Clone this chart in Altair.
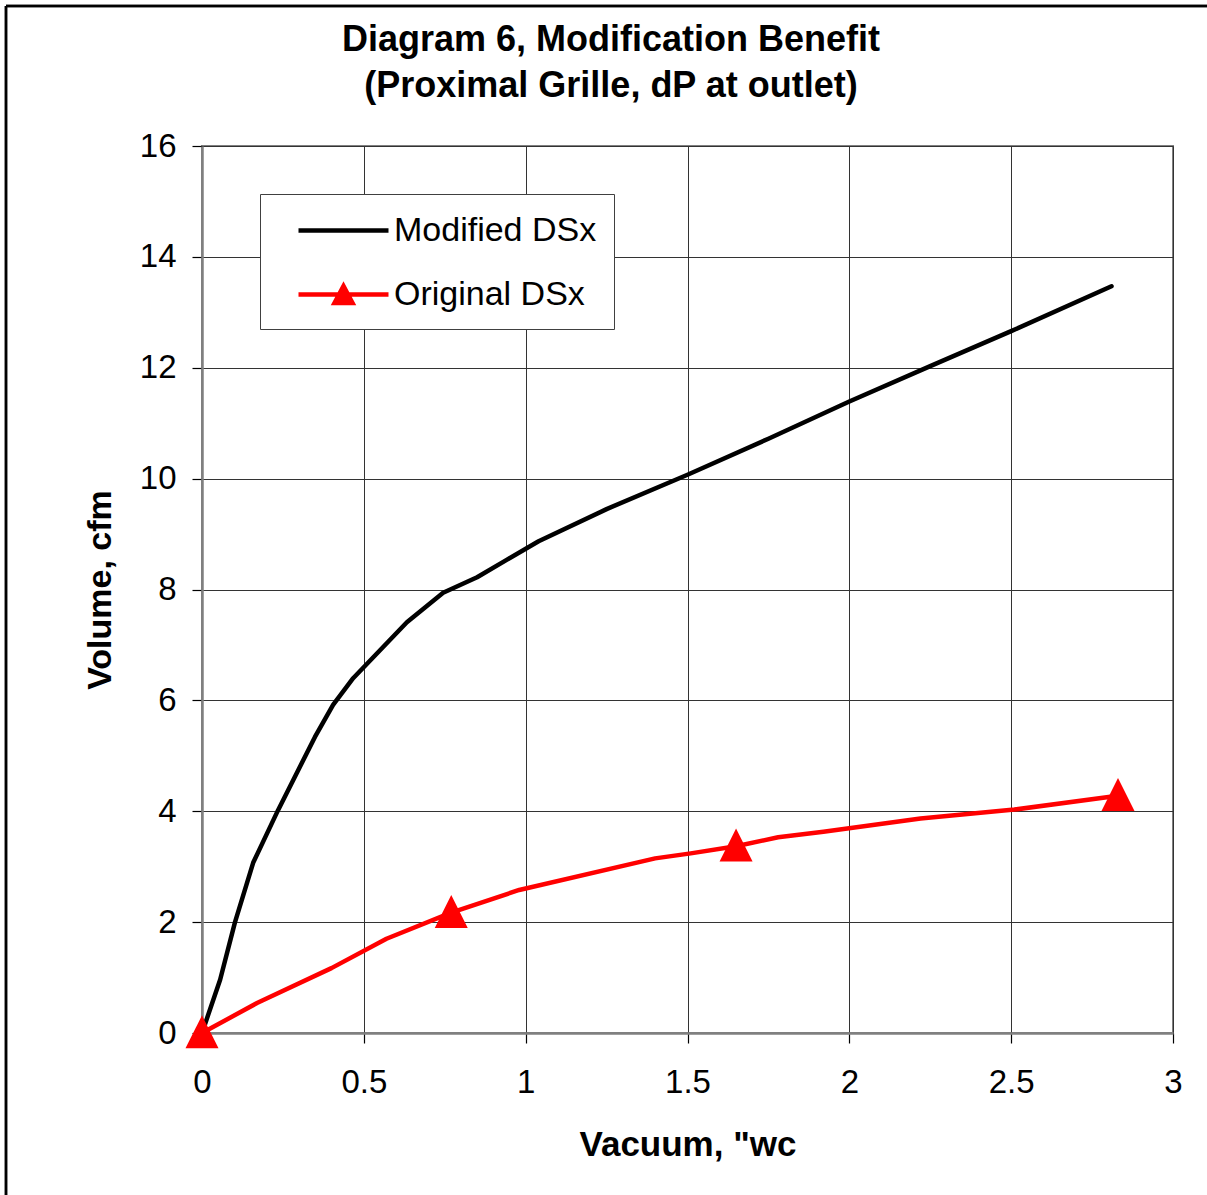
import altair as alt
import pandas as pd

# ---- data ----
mod_x = [0.0, 0.056, 0.102, 0.158, 0.235, 0.349, 0.405, 0.467, 0.633, 0.745, 0.85, 0.94, 1.04,
         1.25, 1.5, 1.75, 2.0, 2.25, 2.5, 2.81]
mod_y = [0.0, 0.96, 2.0, 3.07, 4.02, 5.34, 5.92, 6.40, 7.41, 7.94, 8.22, 8.53, 8.87,
         9.45, 10.07, 10.72, 11.39, 12.03, 12.66, 13.47]

orig_x = [0.0, 0.17, 0.40, 0.57, 0.77, 0.98, 1.40, 1.51, 1.65, 1.78, 1.92, 2.22, 2.51, 2.83]
orig_y = [0.0, 0.54, 1.17, 1.70, 2.17, 2.58, 3.15, 3.24, 3.37, 3.53, 3.63, 3.87, 4.03, 4.28]

marker_x = [0.0, 0.77, 1.65, 2.83]
marker_y = [0.0, 2.17, 3.37, 4.28]

series_names = ["Modified DSx", "Original DSx"]
series_colors = ["#000000", "#FF0000"]
x_ticks = [0, 0.5, 1, 1.5, 2, 2.5, 3]
y_ticks = [0, 2, 4, 6, 8, 10, 12, 14, 16]

title_text = ["Diagram 6, Modification Benefit\n(Proximal Grille, dP at outlet)"]
x_title = 'Vacuum, "wc'
y_title = "Volume, cfm"

FONT = "Liberation Sans"

mod_df = pd.DataFrame({"x": mod_x, "y": mod_y})
orig_df = pd.DataFrame({"x": orig_x, "y": orig_y})
markers_df = pd.DataFrame({"x": marker_x, "y": marker_y})
legend_df = pd.DataFrame({"series": series_names})
title_df = pd.DataFrame({"t": title_text})

W, H = 971, 887

xs = alt.Scale(domain=[0, 3], nice=False, zero=False)
ys = alt.Scale(domain=[0, 16], nice=False, zero=False)

x_axis = alt.Axis(values=x_ticks, format="~g", title=x_title, grid=True, labelFlush=False,
                  labelFontSize=33, labelPadding=23, titleY=122, titleBaseline="alphabetic",
                  titleFontSize=35)
y_axis = alt.Axis(values=y_ticks, format="~g", title=y_title, grid=True, labelFlush=False,
                  labelFontSize=33, labelPadding=16, titleX=-92, titleY=H / 2,
                  titleBaseline="alphabetic", titleAlign="center", titleAngle=270,
                  titleFontSize=34)

# legend symbols: a line segment, and a line segment with a triangle on it
legend_shapes = [
    "M-2.647,0H2.647",
    "M-2.647,0H2.647M0,-0.5L0.53,0.5L-0.53,0.5Z",
]

leg = alt.Legend(title=None, orient="none", legendX=58, legendY=48,
                 symbolSize=1156, symbolStrokeWidth=4.5, symbolOpacity=1, symbolOffset=47,
                 labelFont=FONT, labelFontSize=34, labelColor="#000000", labelLimit=500,
                 labelOffset=31, padding=17, rowPadding=27, labelExpr="datum.label + '  '",
                 fillColor="#FFFFFF", strokeColor="#404040", cornerRadius=0)

base_x = alt.X("x:Q", scale=xs, axis=x_axis)
base_y = alt.Y("y:Q", scale=ys, axis=y_axis)

line_mod = alt.Chart(mod_df).mark_line(
    strokeWidth=4.5, strokeJoin="round", strokeCap="round", color=series_colors[0]
).encode(x=base_x, y=base_y)

line_orig = alt.Chart(orig_df).mark_line(
    strokeWidth=4.5, strokeJoin="round", strokeCap="round", color=series_colors[1]
).encode(x=alt.X("x:Q", scale=xs), y=alt.Y("y:Q", scale=ys))

tri = "M0,-1.07L1,0.93L-1,0.93Z"
markers = alt.Chart(markers_df).mark_point(
    shape=tri, filled=True, size=1089, color=series_colors[1], opacity=1
).encode(x=alt.X("x:Q", scale=xs), y=alt.Y("y:Q", scale=ys))

# carrier layer placed off-canvas; it only produces the legend
carrier = alt.Chart(legend_df).mark_point(filled=True, size=1, opacity=1, strokeWidth=4.5).encode(
    x=alt.value(-600), y=alt.value(-600),
    fill=alt.Fill("series:N", scale=alt.Scale(domain=series_names, range=series_colors), legend=leg),
    stroke=alt.Stroke("series:N", scale=alt.Scale(domain=series_names, range=series_colors), legend=leg),
    shape=alt.Shape("series:N", scale=alt.Scale(domain=series_names, range=legend_shapes), legend=leg),
)

title_mark = alt.Chart(title_df).mark_text(
    font=FONT, fontSize=36, fontWeight="bold", color="#000000", align="center",
    baseline="alphabetic", lineBreak="\n", lineHeight=46
).encode(text="t:N", x=alt.value(409), y=alt.value(-95))

# outer frame (left and top edges of the chart border)
frame_left = alt.Chart(legend_df).mark_rule(color="#000000", strokeWidth=2.5).encode(
    x=alt.value(-196), y=alt.value(-140), y2=alt.value(1049))
frame_top = alt.Chart(legend_df).mark_rule(color="#000000", strokeWidth=2.5).encode(
    x=alt.value(-196), x2=alt.value(1010), y=alt.value(-140))

chart = alt.layer(line_mod, line_orig, markers, carrier, title_mark, frame_left, frame_top).properties(
    width=W, height=H,
    padding={"left": 202, "top": 146, "right": 34, "bottom": 162},
    autosize=alt.AutoSizeParams(type="none"),
    background="#FFFFFF",
).configure_view(
    stroke="#808080", strokeWidth=2
).configure_axis(
    labelFont=FONT, titleFont=FONT, labelColor="#000000", titleColor="#000000",
    titleFontWeight="bold", domainColor="#808080", domainWidth=2.5,
    gridColor="#333333", gridWidth=1, gridOpacity=1,
    tickColor="#000000", tickSize=10, tickWidth=1.2,
)

chart.save("out.html", embed_options={"renderer": "svg", "actions": False})
